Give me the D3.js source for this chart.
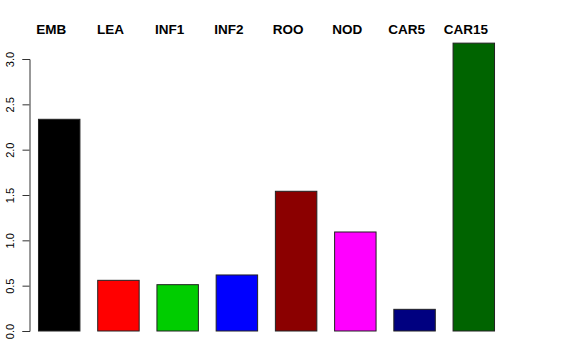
<!DOCTYPE html>
<html><head><meta charset="utf-8">
<script src="https://cdn.jsdelivr.net/npm/d3@7"></script>
<style>body{margin:0;background:#fff}svg{display:block}</style>
</head><body>
<script>
const categories = ["EMB","LEA","INF1","INF2","ROO","NOD","CAR5","CAR15"];
const values = [2.335, 0.559, 0.511, 0.618, 1.541, 1.092, 0.239, 3.175];
const colors = ["#000000","#FF0000","#00CD00","#0000FF","#8B0000","#FF00FF","#000080","#006400"];
const ticks = [0, 0.5, 1, 1.5, 2, 2.5, 3];

const W = 576, H = 360;
const svg = d3.select("body").append("svg").attr("width", W).attr("height", H);

const y = d3.scaleLinear().domain([0, 3]).range([331, 59]);
const x = d3.scaleBand().domain(categories).range([29.6, 503.4]).paddingInner(0.3).paddingOuter(0.15);

svg.selectAll("rect.bar").data(values).enter().append("rect")
  .attr("class","bar")
  .attr("x", (d,i) => x(categories[i]))
  .attr("width", x.bandwidth())
  .attr("y", d => y(d))
  .attr("height", d => y(0) - y(d))
  .attr("fill", (d,i) => colors[i])
  .attr("stroke", "#222")
  .attr("stroke-width", 1);

const ax = svg.append("g").attr("transform","translate(29.5,0)")
  .call(d3.axisLeft(y).tickValues(ticks).tickFormat(d3.format(".1f")).tickSize(7).tickPadding(0));
ax.select(".domain").attr("stroke","#333");
ax.selectAll(".tick line").attr("stroke","#333");
ax.selectAll(".tick text").remove();
ax.selectAll(".tick").append("text")
  .attr("transform","translate(-15.5,0) rotate(-90)")
  .attr("text-anchor","middle")
  .attr("fill","#000")
  .style("font-family","'Liberation Sans', Arial, sans-serif")
  .style("font-size","11px")
  .text(d => d3.format(".1f")(d));

svg.selectAll("text.lab").data(categories).enter().append("text")
  .attr("class","lab")
  .attr("x", d => x(d) + x.bandwidth()/2 - 8)
  .attr("y", 34)
  .attr("text-anchor","middle")
  .style("font-family","'Liberation Sans', Arial, sans-serif")
  .style("font-weight","bold")
  .style("font-size","13.5px")
  .text(d => d);
</script>
</body></html>
